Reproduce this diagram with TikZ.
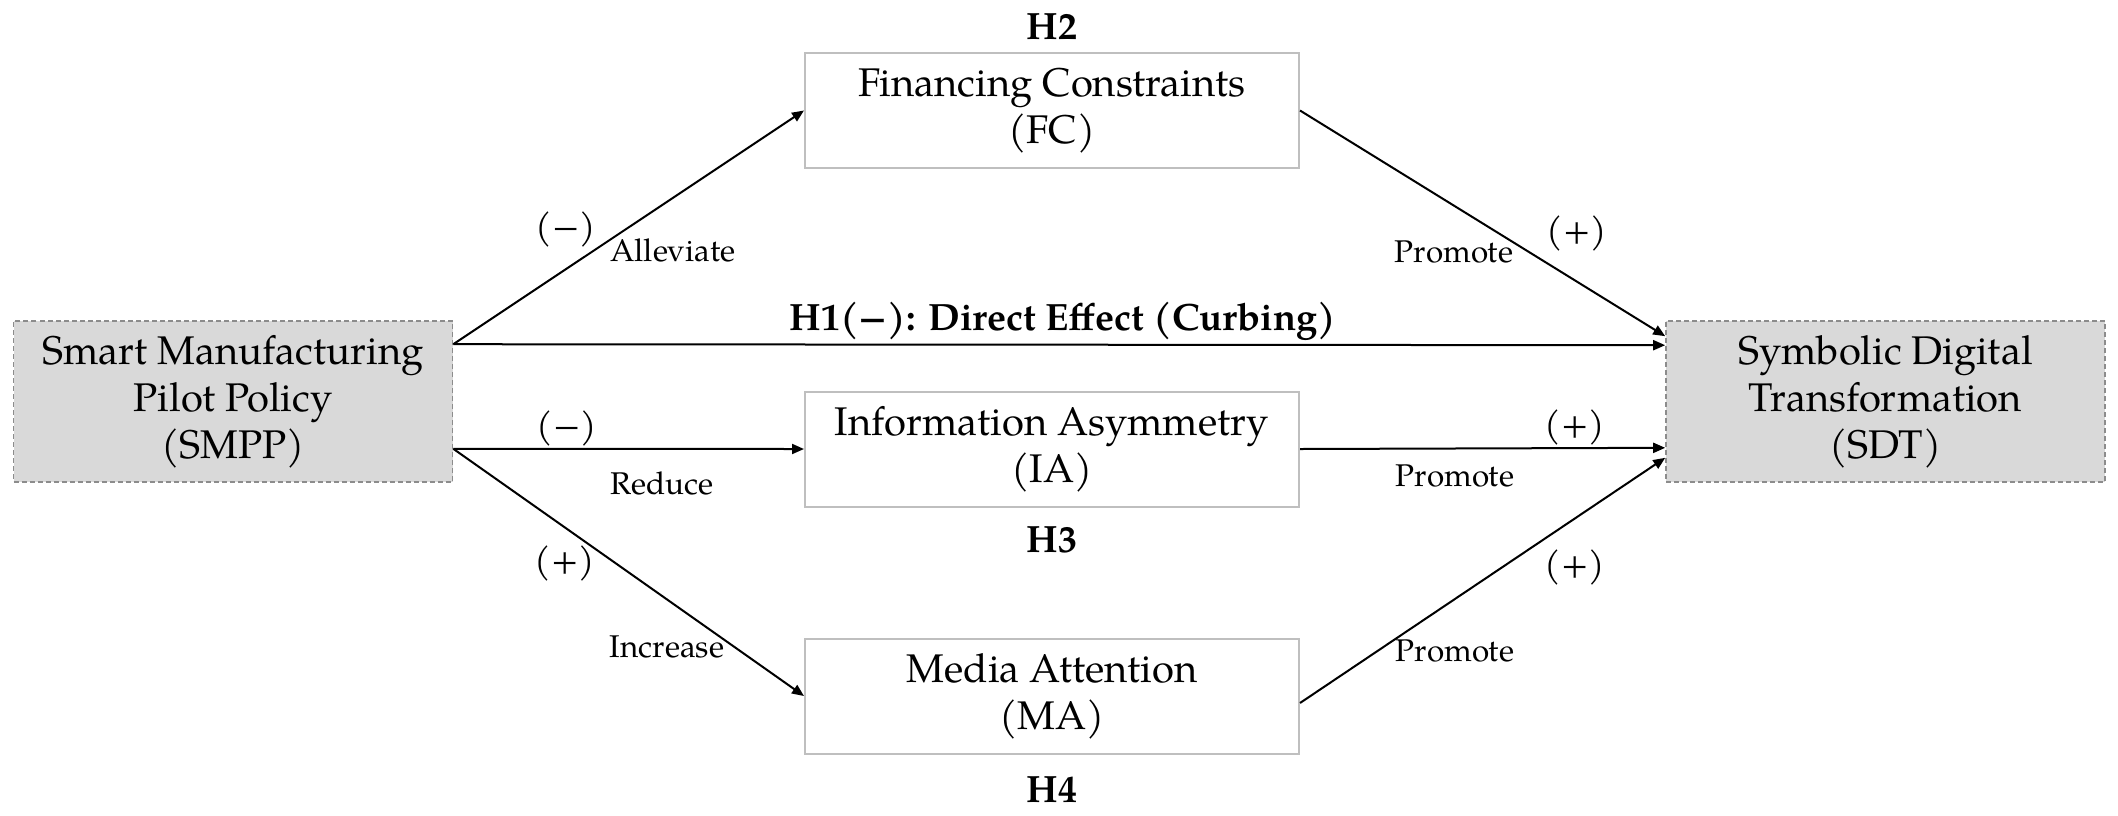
\documentclass[tikz,border=0pt]{standalone}
\usepackage{fontspec}
\setmainfont{TeX Gyre Pagella}
\usetikzlibrary{arrows.meta,calc}
\definecolor{boxfill}{HTML}{D9D9D9}
\definecolor{dashgray}{HTML}{8C8C8C}
\definecolor{midgray}{HTML}{BFBFBF}
\begin{document}
\begin{tikzpicture}[x=0.5pt,y=-0.5pt,
  mainfont/.style={font=\fontsize{20}{23.5}\selectfont},
  outerbox/.style={mainfont, draw=dashgray, fill=boxfill, dash pattern=on 2.5pt off 1.5pt,
    line width=0.8pt, minimum width=219.5pt, minimum height=80.5pt, align=center, inner sep=0pt},
  midbox/.style={mainfont, draw=midgray, fill=white, line width=1pt,
    minimum width=247pt, minimum height=57.5pt, align=center, inner sep=0pt},
  hlabel/.style={font=\fontsize{19}{23}\selectfont\bfseries, inner sep=0pt},
  sign/.style={font=\fontsize{18}{22}\selectfont, inner sep=0pt},
  verb/.style={font=\fontsize{15.7}{18}\selectfont, inner sep=0pt},
  conn/.style={line width=1pt, -{Triangle[length=6pt,width=5pt]}}]
\useasboundingbox (0,0) rectangle (2118,815);

\node[outerbox] (smpp) at (233,401.5) {Smart Manufacturing\\Pilot Policy\\(SMPP)};
\node[outerbox] (sdt) at (1885.5,401.5) {Symbolic Digital\\Transformation\\(SDT)};
\node[midbox] (fc) at (1052,110.5) {Financing Constraints\\(FC)};
\node[midbox] (ia) at (1052,449) {Information Asymmetry\\(IA)};
\node[midbox] (ma) at (1052,696) {Media Attention\\(MA)};

\node[hlabel] (h2) at (1052,27) {H2};
\node[hlabel] (h3) at (1052,540) {H3};
\node[hlabel] (h4) at (1052,790) {H4};
\node[hlabel] (h1) at (1063,321) {H1(−): Direct Effect (Curbing)};

\coordinate (s1) at ([yshift=-12pt]smpp.north east);
\coordinate (s2) at ([yshift=17pt]smpp.south east);
\coordinate (t1) at ([yshift=-8pt]sdt.north west);
\coordinate (t2) at ([yshift=-12.5pt]sdt.north west);
\coordinate (t3) at ([yshift=17.5pt]sdt.south west);
\coordinate (t4) at ([yshift=12.5pt]sdt.south west);

\draw[conn] (s1) -- (fc.west);
\draw[conn] (s1) -- (t2);
\draw[conn] (s2) -- (ia.west);
\draw[conn] (s2) -- (ma.west);
\draw[conn] (fc.east) -- (t1);
\draw[conn] (ia.east) -- (t3);
\draw[conn] ([yshift=-3.5pt]ma.east) -- (t4);

\node[sign] (m1) at (566,229) {(−)};
\node[verb] (v1) at (673,250) {Alleviate};
\node[sign] (m2) at (567,428) {(−)};
\node[verb] (v2) at (662,483) {Reduce};
\node[sign] (m3) at (565,563) {(+)};
\node[verb] (v3) at (667,647) {Increase};
\node[sign] (p1) at (1577,233) {(+)};
\node[verb] (w1) at (1454,252) {Promote};
\node[sign] (p2) at (1575,427) {(+)};
\node[verb] (w2) at (1455,476) {Promote};
\node[sign] (p3) at (1575,567) {(+)};
\node[verb] (w3) at (1455,651) {Promote};
\end{tikzpicture}
\end{document}
